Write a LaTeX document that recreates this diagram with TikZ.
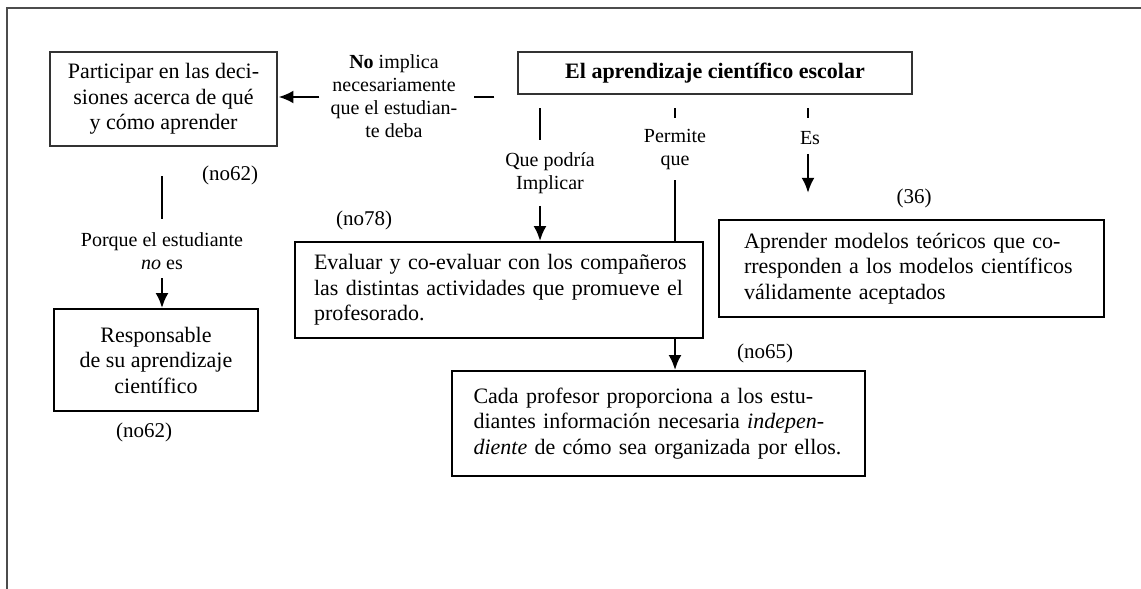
\documentclass[tikz,border=0pt]{standalone}
\usepackage{fontspec}
\setmainfont{Liberation Serif}
\usetikzlibrary{arrows.meta}

\newcommand{\fillline}[2]{\makebox[#1][s]{#2}}

\tikzset{
  box/.style={draw, line width=1.9pt, inner sep=0pt, font=\fontsize{22}{25.5}\selectfont},
  thinbox/.style={box, line width=1.3pt, draw=black!80},
  lbl/.style={inner sep=1pt, align=center, font=\fontsize{20}{23}\selectfont},
  ref/.style={inner sep=1pt, font=\fontsize{21}{24}\selectfont},
  conn/.style={line width=2.4pt},
}

\begin{document}
\begin{tikzpicture}[x=1pt, y=-1pt, >={Latex[length=15pt,width=13pt]}]
  \useasboundingbox (0,0) rectangle (1141,589);
  % frame
  \draw[line width=1.4pt, black!70] (7,589) -- (7,8) -- (1141,8);

  % boxes
  \node[thinbox, minimum width=394pt, minimum height=42pt] (main) at (715,73) {\textbf{El aprendizaje científico escolar}};
  \node[thinbox, minimum width=227pt, minimum height=94pt, align=center] (part) at (163.5,99) {Participar en las deci-\\siones acerca de qué\\y cómo aprender};
  \node[box, minimum width=204pt, minimum height=102pt, align=center] (resp) at (156,360) {Responsable\\de su aprendizaje\\científico};
  \node[box, minimum width=408pt, minimum height=96pt, text width=370pt, align=left] (eval) at (499,290) {\fillline{370pt}{Evaluar y co-evaluar con los compañeros}\\\fillline{370pt}{las distintas actividades que promueve el}\\profesorado.};
  \node[box, minimum width=385pt, minimum height=97pt, text width=335pt, align=left] (apr) at (911.5,268.5) {\fillline{335pt}{Aprender modelos teóricos que co-}\\\fillline{335pt}{rresponden a los modelos científicos}\\válidamente aceptados};
  \node[box, minimum width=413pt, minimum height=105pt, text width=370pt, align=left] (cada) at (658.5,423.5) {\fillline{370pt}{Cada profesor proporciona a los estu-}\\\fillline{370pt}{diantes información necesaria \textit{indepen-}}\\\textit{diente} de cómo sea organizada por ellos.};

  % link labels
  \node[lbl] (nolbl) at (394,96) {\textbf{No} implica\\necesariamente\\que el estudian-\\te deba};
  \node[lbl] (qplbl) at (550,173) {Que podría\\Implicar};
  \node[lbl] (pmlbl) at (675,150) {Permite\\que};
  \node[lbl] (eslbl) at (810,138) {Es};
  \node[lbl] (pqlbl) at (162,251.5) {Porque el estudiante\\\textit{no} es};

  % references
  \node[ref] (r62a) at (230,175) {(no62)};
  \node[ref] (r78) at (364,220) {(no78)};
  \node[ref] (r36) at (914,198) {(36)};
  \node[ref] (r65) at (765,353) {(no65)};
  \node[ref] (r62b) at (144,432) {(no62)};

  \coordinate (qp) at (540,108);
  \coordinate (pm) at (675,108);
  \coordinate (es) at (808,108);
  \coordinate (pq) at (162,176);

  % connectors
  \draw[conn] (main.west |- part.east) ++(-23,-2) -- ++(-20,0);
  \draw[conn,->] (nolbl.west |- part.east) ++(-10,-2) -- ++(-41,0);

  \draw[conn] (qp) -- ++(0,32);
  \draw[conn,->] (qp |- qplbl.south) ++(0,11) -- (qp |- eval.north);

  \draw[conn] (pm) -- ++(0,10);
  \draw[conn] (pm |- pmlbl.south) ++(0,9) -- (pm |- eval.north);
  \draw[conn,->] (pm |- eval.south) -- (pm |- cada.north);

  \draw[conn] (es) -- ++(0,10);
  \draw[conn,->] (es |- eslbl.south) ++(0,8) -- ++(0,39);

  \draw[conn] (pq) -- ++(0,43);
  \draw[conn,->] (pq |- pqlbl.south) ++(0,7) -- (pq |- resp.north);
\end{tikzpicture}
\end{document}
